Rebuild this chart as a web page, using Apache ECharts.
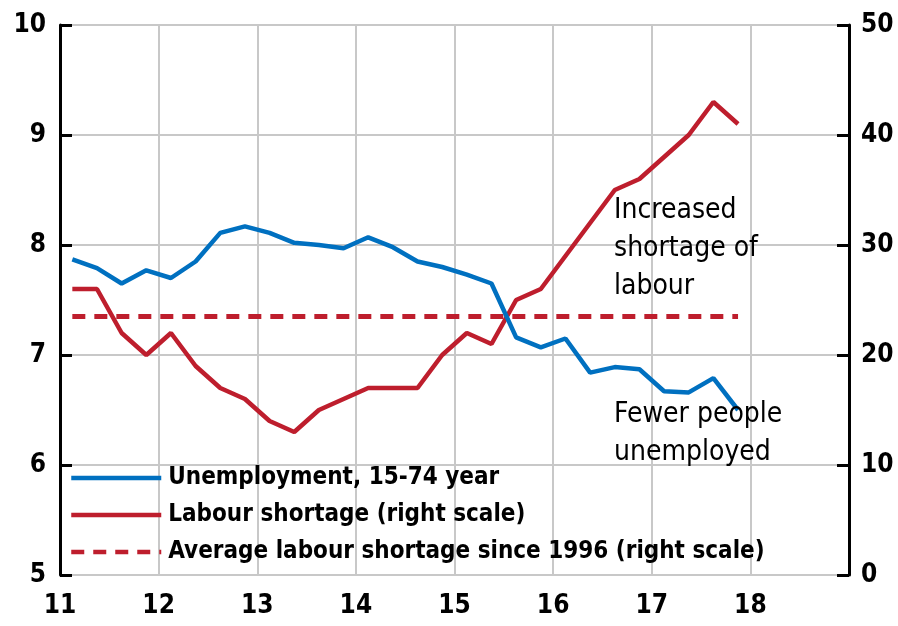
<!DOCTYPE html>
<html>
<head>
<meta charset="utf-8">
<script src="https://cdn.jsdelivr.net/npm/echarts@6/dist/echarts.min.js"></script>
<style>
  html, body { margin: 0; padding: 0; background: #fff; }
  #chart { width: 898px; height: 626px; }
</style>
</head>
<body>
<div id="chart"></div>
<script>
// quarters 2011Q1 .. 2017Q4
var quarters = [
  '2011Q1','2011Q2','2011Q3','2011Q4','2012Q1','2012Q2','2012Q3','2012Q4',
  '2013Q1','2013Q2','2013Q3','2013Q4','2014Q1','2014Q2','2014Q3','2014Q4',
  '2015Q1','2015Q2','2015Q3','2015Q4','2016Q1','2016Q2','2016Q3','2016Q4',
  '2017Q1','2017Q2','2017Q3','2017Q4'
];
// unemployment, 15-74 year (left scale, %)
var unemployment = [
  7.87, 7.79, 7.65, 7.77, 7.70, 7.85, 8.11, 8.17,
  8.11, 8.02, 8.00, 7.97, 8.07, 7.98, 7.85, 7.80,
  7.73, 7.65, 7.16, 7.07, 7.15, 6.84, 6.89, 6.87,
  6.67, 6.66, 6.79, 6.50
];
// labour shortage (right scale, %)
var labourShortage = [
  26, 26, 22, 20, 22, 19, 17, 16,
  14, 13, 15, 16, 17, 17, 17, 20,
  22, 21, 25, 26, 29, 32, 35, 36,
  38, 40, 43, 41
];
// average labour shortage since 1996
var avgShortage = 23.5;
var xTicks = [11, 12, 13, 14, 15, 16, 17, 18];

var FONT = '"Liberation Sans Narrow", "DejaVu Sans Condensed", sans-serif';

function qToX(q) {
  var y = parseInt(q.slice(0, 4)) - 2000;
  var n = parseInt(q.slice(5));
  return y + (n - 0.5) / 4;
}

var unempData = quarters.map(function (q, i) { return [qToX(q), unemployment[i]]; });
var shortData = quarters.map(function (q, i) { return [qToX(q), labourShortage[i]]; });
var avgData = quarters.map(function (q) { return [qToX(q), avgShortage]; });

var chart = echarts.init(document.getElementById('chart'));
chart.setOption({
  animation: false,
  grid: { left: 60, right: 49, top: 25, bottom: 51 },
  legend: {
    orient: 'vertical',
    left: 64,
    top: 461,
    itemWidth: 90,
    itemHeight: 14,
    itemGap: 13,
    itemStyle: { opacity: 0 },
    lineStyle: { width: 4.5 },
    textStyle: { fontFamily: FONT, fontSize: 24, fontWeight: 'bold', color: '#000', padding: [0, 0, 0, 2] },
    data: ['Unemployment, 15-74 year', 'Labour shortage (right scale)', 'Average labour shortage since 1996 (right scale)']
  },
  xAxis: {
    type: 'value',
    min: 11,
    max: 19,
    interval: 1,
    axisLine: { show: false },
    axisTick: { show: false },
    axisLabel: {
      fontFamily: FONT, fontSize: 26, fontWeight: 'bold', color: '#000', margin: 18,
      formatter: function (v) { return xTicks.indexOf(v) >= 0 ? String(v) : ''; }
    },
    splitLine: { show: true, lineStyle: { color: '#c8c8c8', width: 2 } }
  },
  yAxis: [
    {
      type: 'value', min: 5, max: 10, interval: 1,
      axisLine: { show: true, lineStyle: { color: '#000', width: 3 } },
      axisTick: { show: true, inside: true, length: 12, lineStyle: { color: '#000', width: 3 } },
      axisLabel: { fontFamily: FONT, fontSize: 26, fontWeight: 'bold', color: '#000', margin: 14 },
      splitLine: { show: true, lineStyle: { color: '#c8c8c8', width: 2 } }
    },
    {
      type: 'value', min: 0, max: 50, interval: 10, position: 'right',
      axisLine: { show: true, lineStyle: { color: '#000', width: 3 } },
      axisTick: { show: true, inside: true, length: 12, lineStyle: { color: '#000', width: 3 } },
      axisLabel: { fontFamily: FONT, fontSize: 26, fontWeight: 'bold', color: '#000', margin: 12 },
      splitLine: { show: false }
    }
  ],
  series: [
    {
      name: 'Unemployment, 15-74 year', type: 'line', yAxisIndex: 0,
      showSymbol: false, symbol: 'none',
      lineStyle: { color: '#0070c0', width: 4.5 }, itemStyle: { color: '#0070c0' },
      data: unempData, z: 4
    },
    {
      name: 'Labour shortage (right scale)', type: 'line', yAxisIndex: 1,
      showSymbol: false, symbol: 'none',
      lineStyle: { color: '#be1e2d', width: 4.5 }, itemStyle: { color: '#be1e2d' },
      data: shortData, z: 3
    },
    {
      name: 'Average labour shortage since 1996 (right scale)', type: 'line', yAxisIndex: 1,
      showSymbol: false, symbol: 'none',
      lineStyle: { color: '#be1e2d', width: 5, type: [13, 9] }, itemStyle: { color: '#be1e2d' },
      data: avgData, z: 2
    }
  ],
  graphic: [
    {
      type: 'text', left: 614, top: 192, z: 10,
      style: { text: 'Increased\nshortage of\nlabour', font: '28px ' + FONT, fill: '#000', lineHeight: 38 }
    },
    {
      type: 'text', left: 614, top: 396, z: 10,
      style: { text: 'Fewer people\nunemployed', font: '28px ' + FONT, fill: '#000', lineHeight: 38 }
    }
  ]
});
</script>
</body>
</html>
